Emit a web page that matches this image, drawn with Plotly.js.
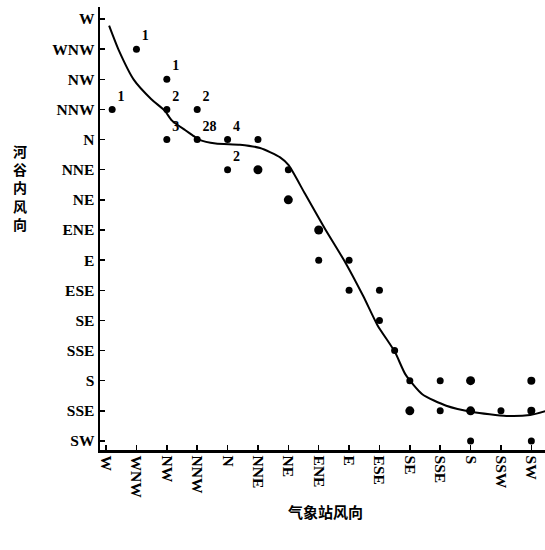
<!DOCTYPE html>
<html><head><meta charset="utf-8">
<script src="https://cdn.plot.ly/plotly-3.0.1.min.js"></script>
<style>html,body{margin:0;padding:0;background:#fff}#chart{width:545px;height:550px}</style>
</head><body><div id="chart"></div>
<script>
// Tick labels (station direction on x, valley direction on y; y labels as printed)
const xTickLabels = ['W','WNW','NW','NNW','N','NNE','NE','ENE','E','ESE','SE','SSE','S','SSW','SW'];
const yTickLabels = ['W','WNW','NW','NNW','N','NNE','NE','ENE','E','ESE','SE','SSE','S','SSE','SW'];

// Observed points (index into the direction lists)
const ptX = [0.2,1,2,2,2,3,3,4,5,4,5,6,6,7,7,8,8,9,9,9.5,10,10,11,11,12,12,12,13,14,14,14];
const ptY = [3,1,2,3,4,3,4,4,4,5,5,5,6,7,8,8,9,9,10,11,12,13,12,13,12,13,14,13,12,13,14];
const ptSize = [7,7,7,7,7,7,7,7,7,7,9,7,9,9,7,7,7,7,7,7,7,9,7,7,9,9,7,7,8,8,7];
const ptLabel = ['1','1','1','2','3','2','28','4','','2','','','','','','','','','','','','','','','','','','','','',''];

// Fitted curve
const curveX = [0.1,0.42,0.91,1.49,1.93,2.17,2.61,2.84,3.08,3.61,4.41,5.07,5.73,6.01,6.55,7.2,7.89,8.47,8.93,9.51,9.86,10.41,11.2,12.07,13.18,13.96,14.5];
const curveY = [0.22,1.04,2.01,2.66,3.04,3.37,3.69,3.85,4.01,4.13,4.17,4.28,4.59,4.85,5.8,6.95,8.1,9.2,10.15,11.05,11.8,12.45,12.83,13.04,13.17,13.14,13.0];

const serif = {family:'"Liberation Serif", "DejaVu Serif", serif', size:15.5, color:'#000', weight:'bold'};
const idx = xTickLabels.map((_,i)=>i);

const traces = [
  {x:curveX, y:curveY, mode:'lines', line:{color:'#000', width:2, shape:'spline', smoothing:0.6}, hoverinfo:'skip'},
  {x:ptX, y:ptY, mode:'markers+text', marker:{color:'#000', size:ptSize, opacity:1, line:{width:0}},
   text:ptLabel, textposition:'top right', textfont:{family:serif.family, size:14, color:'#000', weight:'bold'}}
];

const layout = {
  width:545, height:550,
  margin:{l:100, r:0, t:7, b:100},
  paper_bgcolor:'#fff', plot_bgcolor:'#fff',
  showlegend:false,
  xaxis:{
    range:[-0.2,14.45], tickvals:idx, ticktext:xTickLabels, tickangle:90,
    ticks:'inside', ticklen:5, tickwidth:1.5, tickcolor:'#000',
    showline:true, linecolor:'#000', linewidth:2.5, showgrid:false, zeroline:false,
    tickfont:serif
  },
  yaxis:{
    range:[14.3,-0.4], tickvals:idx, ticktext:yTickLabels,
    ticks:'inside', ticklen:5, tickwidth:1.5, tickcolor:'#000',
    showline:true, linecolor:'#000', linewidth:2.5, showgrid:false, zeroline:false,
    tickfont:serif
  },
  annotations:[
    {xref:'paper', yref:'paper', x:(325-100)/445, y:-(512-450)/443, yanchor:'middle', xanchor:'center',
     text:'气象站风向', showarrow:false, font:{family:'"Noto Sans CJK SC", sans-serif', size:15, color:'#000', weight:'bold'}},
    {xref:'paper', yref:'paper', x:-(100-20)/445, y:1-(188-7)/443, xanchor:'center', yanchor:'middle',
     text:'河<br>谷<br>内<br>风<br>向', showarrow:false, font:{family:'"Noto Sans CJK SC", sans-serif', size:14, color:'#000', weight:'bold'}}
  ]
};

Plotly.newPlot('chart', traces, layout, {displayModeBar:false, staticPlot:true});
</script>
</body></html>
